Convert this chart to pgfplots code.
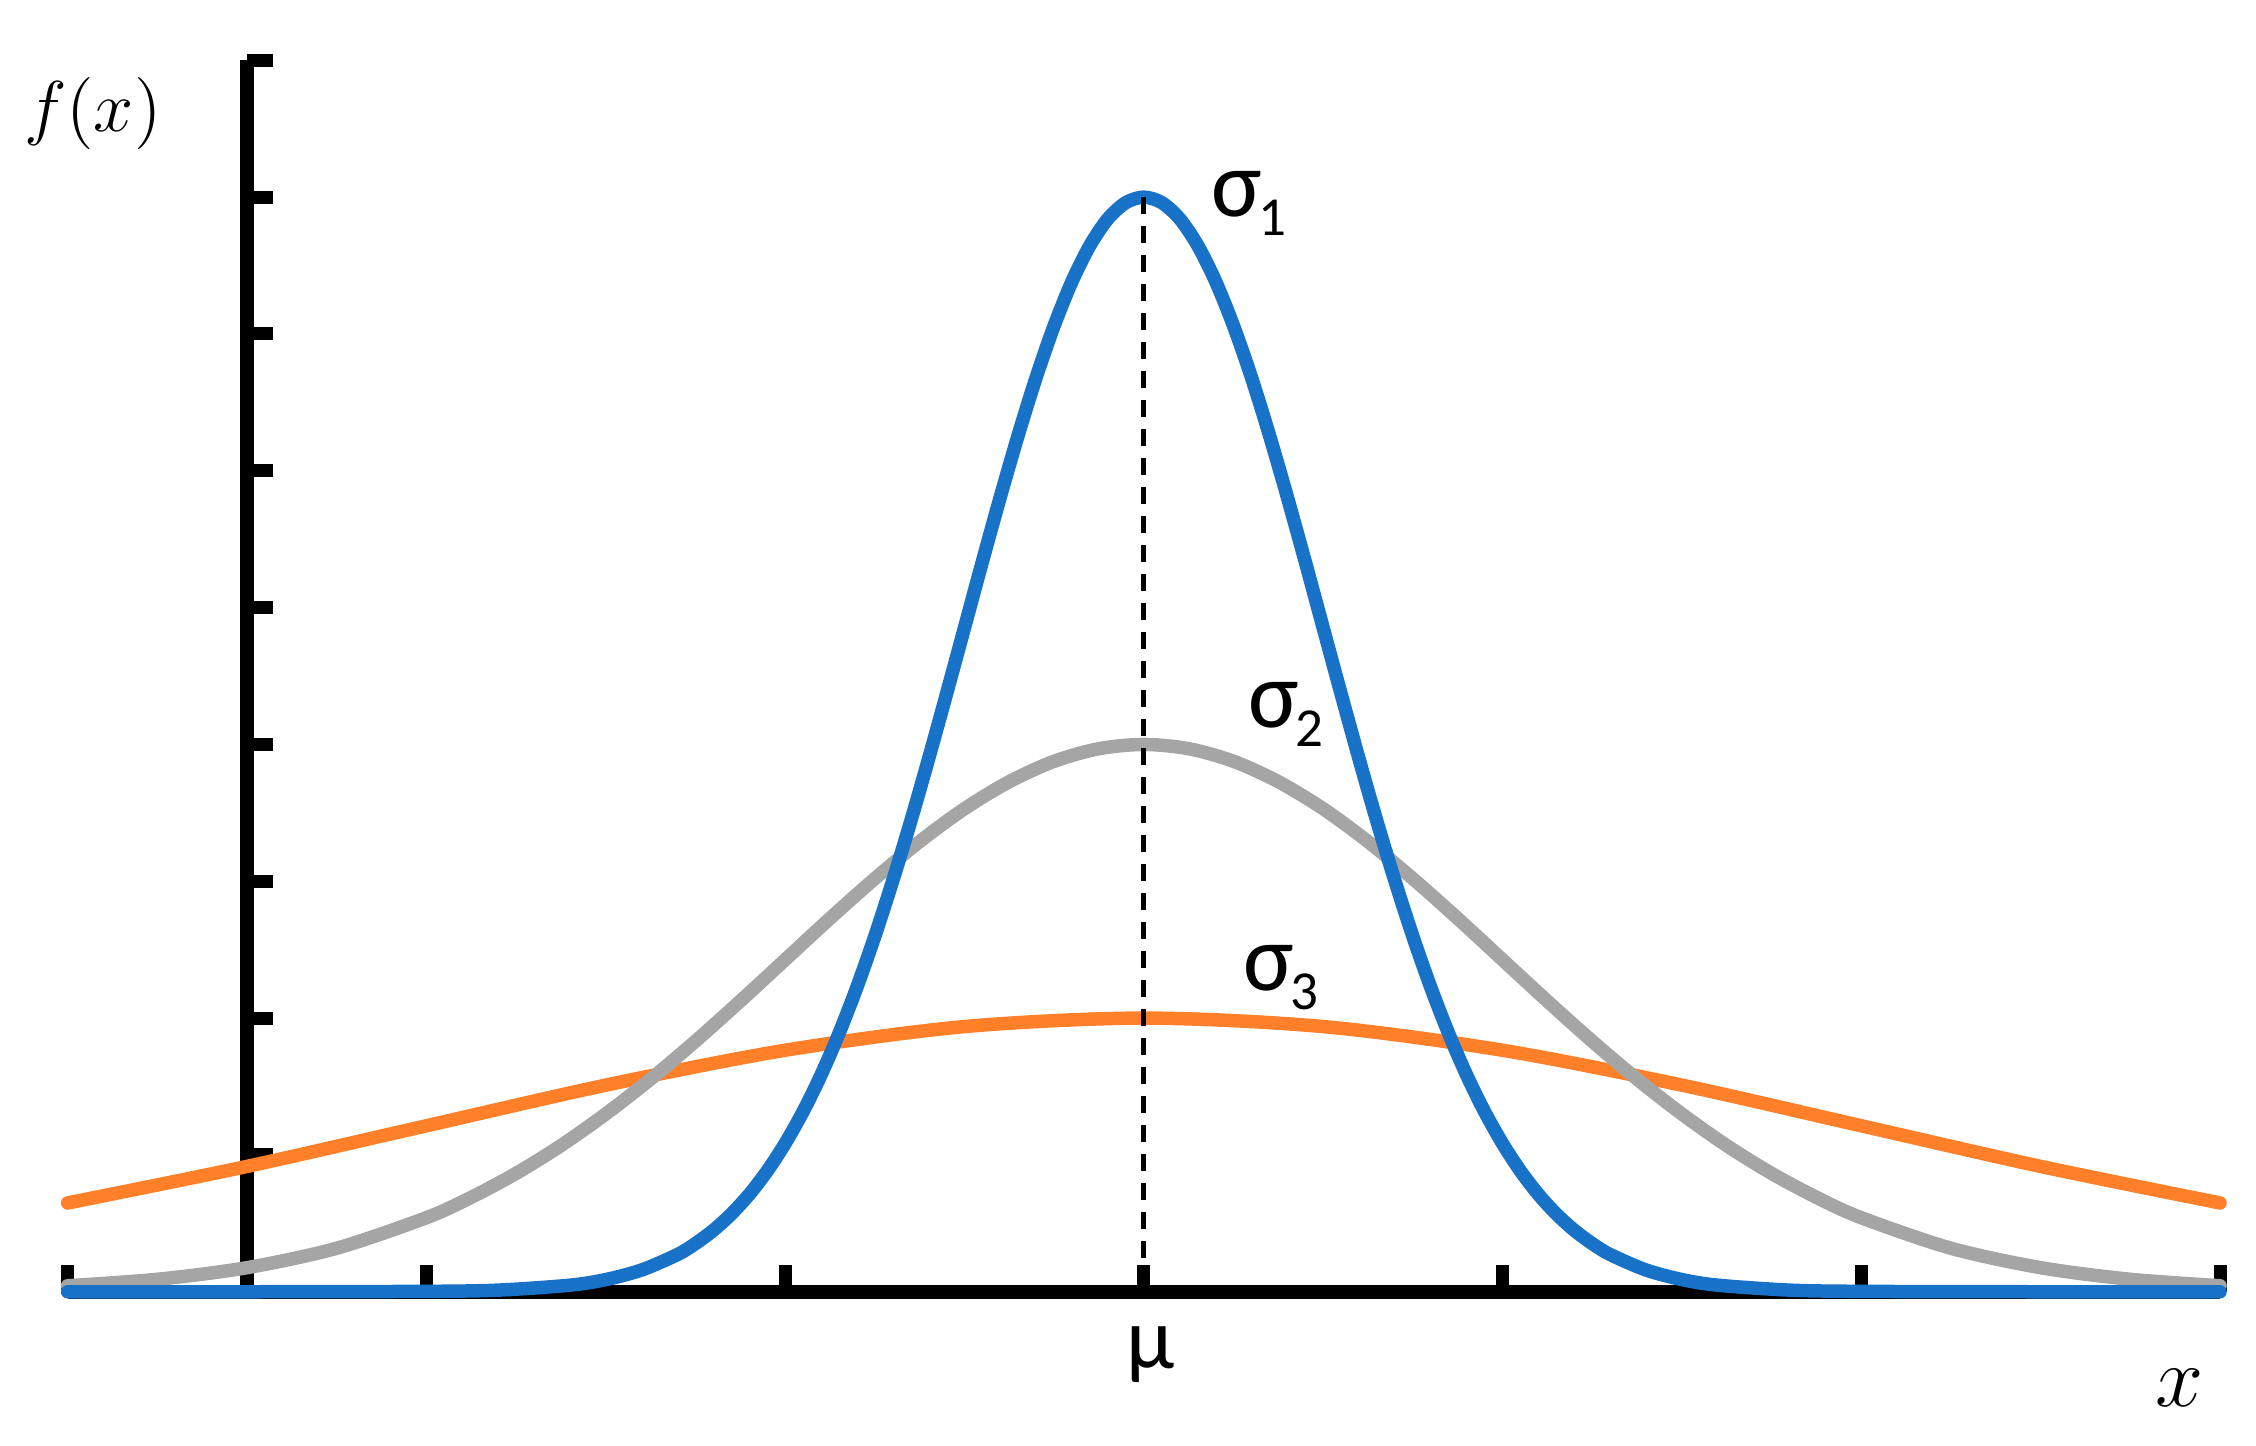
\documentclass[border=0pt]{standalone}
\usepackage{pgfplots}
\pgfplotsset{compat=1.18}
\usepackage{fontspec}
\setmainfont{Carlito}
\definecolor{cblue}{RGB}{24,115,200}
\definecolor{cgray}{RGB}{165,165,165}
\definecolor{corange}{RGB}{255,128,40}
% sigma with a lowered index
\newcommand{\sig}[1]{σ\kern-0.6pt\raisebox{-3.7pt}{\fontsize{11}{11}\selectfont #1}}

\begin{document}
\begin{tikzpicture}
\begin{axis}[
  scale only axis, width=430.5pt, height=246.3pt,
  xmin=-0.5, xmax=5.5, ymin=0, ymax=9,
  axis lines=middle,
  axis line style={-, line width=2.7pt, black},
  xtick={-0.5,0.5,1.5,2.5,3.5,4.5,5.5},
  ytick={0,1,...,9},
  xticklabels={}, yticklabels={},
  tick align=inside,
  major tick length=5.3pt,
  tick style={line width=2.6pt, black},
  clip=false,
  every axis plot/.append style={line width=2.7pt, line cap=round, line join=round},
]
% sigma_3 (widest)
\addplot[corange, smooth] coordinates {
  (-0.5,0.649) (0,0.916) (0.5,1.213) (1.0,1.510) (1.5,1.765) (2.0,1.938)
  (2.5,2) (3.0,1.938) (3.5,1.765) (4.0,1.510) (4.5,1.213) (5.0,0.916) (5.5,0.649)};
% sigma_2
\addplot[cgray, smooth] coordinates {
  (-0.5,0.044) (-0.25,0.091) (0,0.176) (0.25,0.318) (0.5,0.541) (0.625,0.690)
  (0.75,0.865) (0.875,1.068) (1.0,1.299) (1.125,1.554) (1.25,1.831) (1.375,2.124)
  (1.5,2.426) (1.625,2.728) (1.75,3.019) (1.875,3.290) (2.0,3.530) (2.125,3.728)
  (2.25,3.877) (2.375,3.969) (2.5,4) (2.625,3.969) (2.75,3.877) (2.875,3.728)
  (3.0,3.530) (3.125,3.290) (3.25,3.019) (3.375,2.728) (3.5,2.426) (3.625,2.124)
  (3.75,1.831) (3.875,1.554) (4.0,1.299) (4.125,1.068) (4.25,0.865) (4.375,0.690)
  (4.5,0.541) (4.75,0.318) (5.0,0.176) (5.25,0.091) (5.5,0.044)};
% sigma_1 (narrowest)
\addplot[cblue, smooth] coordinates {
  (-0.5,0) (0,0) (0.5,0.003) (0.7,0.012) (0.9,0.048) (1.0,0.089) (1.1,0.159)
  (1.2,0.272) (1.25,0.352) (1.3,0.449) (1.35,0.568) (1.4,0.711) (1.45,0.882)
  (1.5,1.083) (1.55,1.316) (1.6,1.583) (1.65,1.886) (1.7,2.224) (1.75,2.597)
  (1.8,3.003) (1.85,3.436) (1.9,3.894) (1.95,4.369) (2.0,4.852) (2.05,5.336)
  (2.1,5.809) (2.15,6.262) (2.2,6.683) (2.25,7.060) (2.3,7.385) (2.35,7.648)
  (2.4,7.842) (2.45,7.960) (2.5,8) (2.55,7.960) (2.6,7.842) (2.65,7.648)
  (2.7,7.385) (2.75,7.060) (2.8,6.683) (2.85,6.262) (2.9,5.809) (2.95,5.336)
  (3.0,4.852) (3.05,4.369) (3.1,3.894) (3.15,3.436) (3.2,3.003) (3.25,2.597)
  (3.3,2.224) (3.35,1.886) (3.4,1.583) (3.45,1.316) (3.5,1.083) (3.55,0.882)
  (3.6,0.711) (3.65,0.568) (3.7,0.449) (3.75,0.352) (3.8,0.272) (3.9,0.159)
  (4.0,0.089) (4.1,0.048) (4.3,0.012) (4.5,0.003) (5.0,0) (5.5,0)};
% mean
\addplot[black, line width=1pt, line cap=butt, dash pattern=on 3.4pt off 2.4pt]
  coordinates {(2.5,8) (2.5,0)};

\node[anchor=base west, inner sep=0pt, font=\fontsize{19}{19}\selectfont] at (axis cs:2.685,7.856) {\sig{1}};
\node[anchor=base west, inner sep=0pt, font=\fontsize{19}{19}\selectfont] at (axis cs:2.788,4.121) {\sig{2}};
\node[anchor=base west, inner sep=0pt, font=\fontsize{19}{19}\selectfont] at (axis cs:2.774,2.200) {\sig{3}};
\node[inner sep=0pt, font=\fontsize{17.5}{17.5}\selectfont] at (axis cs:2.52,-0.46) {µ};
\node[anchor=west, inner sep=0pt, font=\fontsize{15}{15}\selectfont] at (axis cs:-0.624,8.608) {$f(x)$};
\node[inner sep=0pt, font=\fontsize{17}{17}\selectfont] at (axis cs:5.388,-0.7015) {$x$};

\coordinate (bl) at (rel axis cs:-0.03141,-0.1250);
\coordinate (tr) at (rel axis cs:1.01672,1.0490);
\end{axis}
\pgfresetboundingbox
\path[use as bounding box] (bl) rectangle (tr);
\end{tikzpicture}
\end{document}
